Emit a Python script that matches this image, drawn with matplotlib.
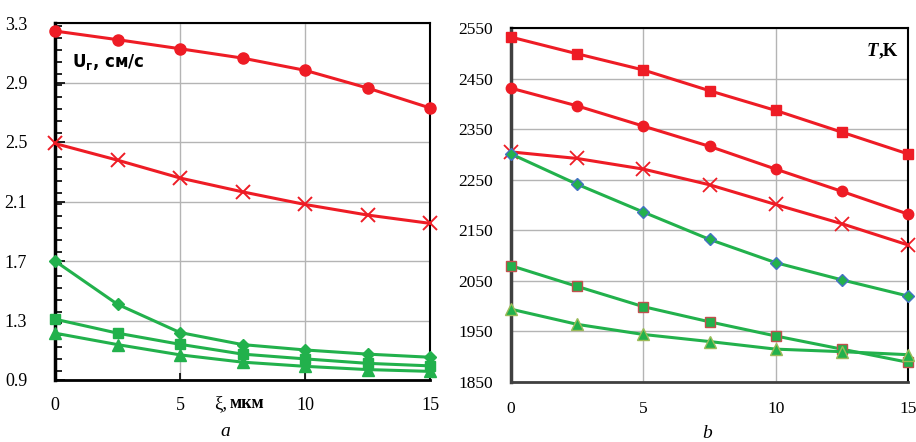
import matplotlib.pyplot as plt
from matplotlib.ticker import MultipleLocator

xi = [0, 2.5, 5, 7.5, 10, 12.5, 15]

# panel a: gas velocity, cm/s
u_red_circle = [3.246, 3.188, 3.127, 3.064, 2.982, 2.863, 2.729]
u_red_x = [2.49, 2.378, 2.258, 2.165, 2.080, 2.009, 1.953]
u_green_diamond = [1.70, 1.409, 1.219, 1.138, 1.102, 1.074, 1.053]
u_green_square = [1.309, 1.215, 1.140, 1.074, 1.042, 1.012, 0.995]
u_green_triangle = [1.215, 1.138, 1.069, 1.020, 0.992, 0.970, 0.958]

# panel b: temperature, K
t_red_square = [2532, 2499, 2467, 2426, 2387, 2344, 2301]
t_red_circle = [2431, 2396, 2356, 2316, 2271, 2227, 2182]
t_red_x = [2305, 2292, 2271, 2240, 2201, 2163, 2121]
t_green_diamond = [2301, 2241, 2186, 2132, 2086, 2052, 2020]
t_green_square = [2080, 2039, 1999, 1969, 1941, 1915, 1889]
t_green_triangle = [1994, 1964, 1944, 1930, 1915, 1910, 1904]

RED = '#ee1c25'
GREEN = '#22b14c'
SERIF = 'Liberation Serif'

fig = plt.figure(figsize=(9.16, 4.42), dpi=100)
fig.patch.set_facecolor('white')

ax1 = fig.add_axes([55/916, 1 - 380/442, 375/916, 357/442])
ax2 = fig.add_axes([511/916, 1 - 382/442, 397/916, 354/442])

# ---- panel a
ax1.plot(xi, u_red_circle, color=RED, lw=2.2, marker='o', ms=8, clip_on=False, zorder=5)
ax1.plot(xi, u_red_x, color=RED, lw=2.2, marker='x', ms=10, mew=1.4, clip_on=False, zorder=5)
ax1.plot(xi, u_green_diamond, color=GREEN, lw=2.2, marker='D', ms=6.5, clip_on=False, zorder=5)
ax1.plot(xi, u_green_square, color=GREEN, lw=2.2, marker='s', ms=7.5, clip_on=False, zorder=5)
ax1.plot(xi, u_green_triangle, color=GREEN, lw=2.2, marker='^', ms=8, clip_on=False, zorder=5)

ax1.set_xlim(0, 15)
ax1.set_ylim(0.9, 3.3)
ax1.set_xticks([0, 5, 10, 15])
ax1.set_yticks([0.9, 1.3, 1.7, 2.1, 2.5, 2.9, 3.3])
ax1.set_yticklabels(['0.9', '1.3', '1.7', '2.1', '2.5', '2.9', '3.3'])
ax1.yaxis.set_minor_locator(MultipleLocator(0.08))
ax1.tick_params(axis='y', which='major', direction='in', length=7, width=1.2, pad=20,
                labelsize=13, labelfontfamily=SERIF)
ax1.tick_params(axis='y', which='minor', direction='in', length=5, width=1.2)
ax1.tick_params(axis='x', direction='in', length=5, width=1.2, pad=12,
                labelsize=13, labelfontfamily=SERIF)
ax1.grid(which='major', color='#b4b4b4', lw=1)
for s in ax1.spines.values():
    s.set_color('black')
    s.set_linewidth(1.5)
ax1.spines['left'].set_linewidth(2.5)
ax1.spines['bottom'].set_linewidth(2)

ax1.text(0.045, 0.89, r'$\mathbf{U_{г}}$, см/с', transform=ax1.transAxes,
         fontsize=12, fontweight='bold', ha='left', va='center', family='DejaVu Sans')

fig.text(227/916, 1 - 404/442, 'ξ,', fontsize=13.5, family=SERIF, ha='right', va='center')
fig.text(230/916, 1 - 404/442, 'мкм', fontsize=13, family=SERIF, fontweight='bold',
         ha='left', va='center')
fig.text(225/916, 1 - 431/442, 'a', fontsize=14, family=SERIF, style='italic',
         ha='center', va='center')

# ---- panel b
ax2.plot(xi, t_red_square, color=RED, lw=2.2, marker='s', ms=7.5, clip_on=False, zorder=5)
ax2.plot(xi, t_red_circle, color=RED, lw=2.2, marker='o', ms=7.5, clip_on=False, zorder=5)
ax2.plot(xi, t_red_x, color=RED, lw=2.2, marker='x', ms=10, mew=1.3, clip_on=False, zorder=5)
ax2.plot(xi, t_green_diamond, color=GREEN, lw=2.2, marker='D', ms=6, mec='#4472c4', mew=1,
         clip_on=False, zorder=5)
ax2.plot(xi, t_green_square, color=GREEN, lw=2.2, marker='s', ms=7, mec='#c0504d', mew=1,
         clip_on=False, zorder=5)
ax2.plot(xi, t_green_triangle, color=GREEN, lw=2.2, marker='^', ms=8.5, mec='#9bbb59', mew=1,
         clip_on=False, zorder=5)

ax2.set_xlim(0, 15)
ax2.set_ylim(1850, 2550)
ax2.set_xticks([0, 5, 10, 15])
ax2.set_yticks(range(1850, 2551, 100))
ax2.tick_params(axis='y', length=0, pad=13, labelsize=12.5, labelfontfamily=SERIF)
ax2.tick_params(axis='x', length=0, pad=14, labelsize=12.5, labelfontfamily=SERIF)
ax2.grid(color='#b4b4b4', lw=1)
for s in ax2.spines.values():
    s.set_color('black')
    s.set_linewidth(1.5)
ax2.spines['left'].set_color('#404040')
ax2.spines['left'].set_linewidth(2.5)
ax2.spines['bottom'].set_color('#404040')
ax2.spines['bottom'].set_linewidth(2)

ax2.text(0.925, 0.935, 'T', transform=ax2.transAxes, ha='right', va='center',
         fontsize=13.5, family=SERIF, style='italic', fontweight='bold')
ax2.text(0.925, 0.935, ',K', transform=ax2.transAxes, ha='left', va='center',
         fontsize=13.5, family=SERIF, fontweight='bold')

fig.text(707/916, 1 - 434/442, 'b', fontsize=14, family=SERIF, style='italic',
         ha='center', va='center')

fig.savefig('out.png', dpi=100)
